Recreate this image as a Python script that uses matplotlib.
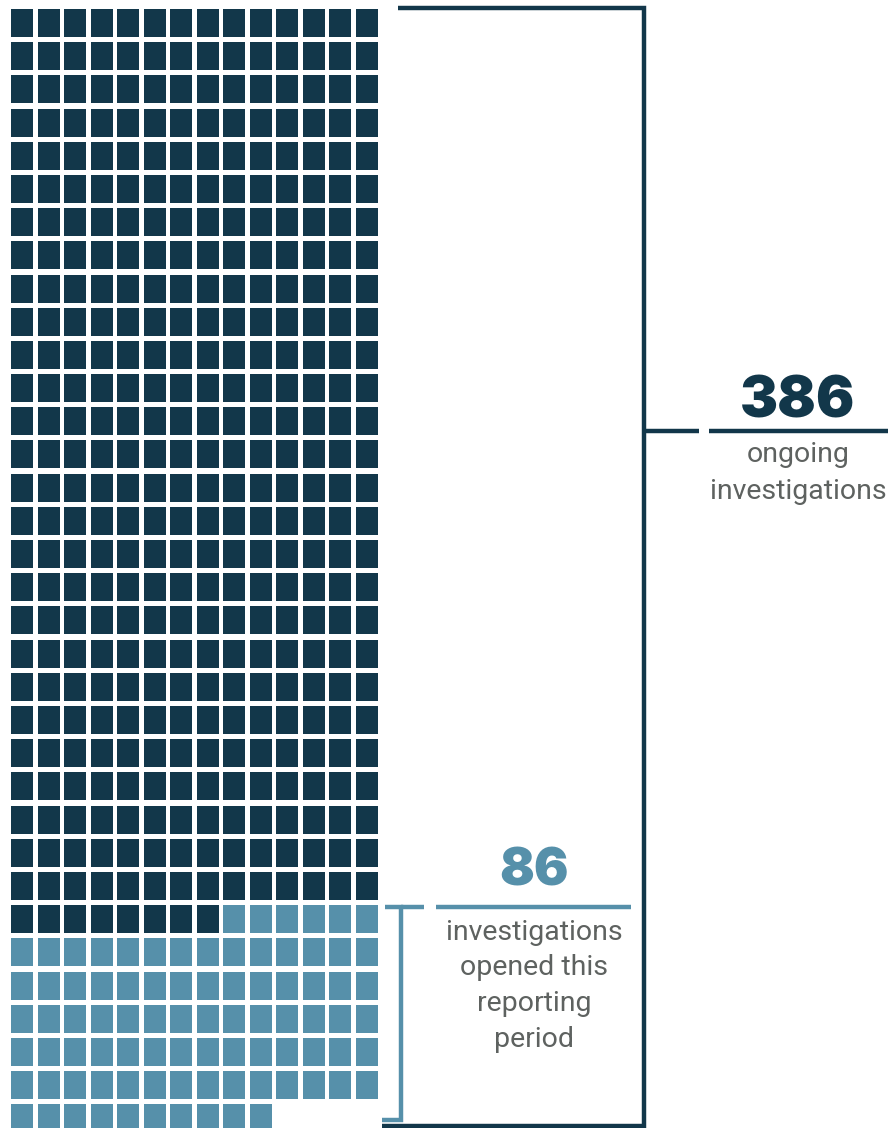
import matplotlib.pyplot as plt
from matplotlib.patches import Rectangle

# waffle counts, filled left-to-right from the top
categories = ['ongoing investigations', 'investigations opened this reporting period']
counts = [386, 86]
labels = ['ongoing\ninvestigations', 'investigations\nopened this\nreporting\nperiod']

dark = '#12374a'
light = '#5690aa'
grey = '#5e6260'

ncols = 14
x0, y0 = 11, 9          # top-left of first tile (px)
dx, dy = 26.5, 33.19    # tile pitch
w, h = 22, 28           # tile size

fig = plt.figure(figsize=(8.91, 11.28), dpi=100)
ax = fig.add_axes([0, 0, 1, 1])
ax.set_xlim(0, 891)
ax.set_ylim(1128, 0)
ax.axis('off')

# tiles
i = 0
for n, col in zip(counts, [dark, light]):
    for _ in range(n):
        r, c = divmod(i, ncols)
        ax.add_patch(Rectangle((x0 + c * dx, y0 + r * dy), w, h, color=col, lw=0))
        i += 1

# light start row -> top of small bracket
first_light_row = counts[0] // ncols
yl_top = y0 + first_light_row * dy + 2
last_row = (sum(counts) - 1) // ncols
yl_bot = y0 + last_row * dy + 16

num_font = ['Inter', 'DejaVu Sans']
txt_font = ['Roboto', 'DejaVu Sans']

# big bracket (all tiles)
lw = 3.2
ax.plot([398, 644, 644, 382], [8, 8, 1126, 1126], color=dark, lw=lw, solid_capstyle='butt', solid_joinstyle='miter')
ymid = 431
ax.plot([644, 699], [ymid, ymid], color=dark, lw=lw, solid_capstyle='butt')
ax.plot([709, 888], [ymid, ymid], color=dark, lw=lw, solid_capstyle='butt')
ax.text(798, 418, str(counts[0]), color=dark, fontsize=41, fontweight='black',
        family=num_font, ha='center', va='baseline')
ax.text(798, 441.5, labels[0], color=grey, fontsize=20.5, family=txt_font,
        ha='center', va='top', linespacing=1.45)

# small bracket (newly opened)
ax.plot([385, 400.5, 400.5, 382], [yl_top, yl_top, yl_bot, yl_bot], color=light, lw=lw,
        solid_capstyle='butt', solid_joinstyle='miter')
ax.plot([400.5, 424], [yl_top, yl_top], color=light, lw=lw, solid_capstyle='butt')
ax.plot([436, 631], [yl_top, yl_top], color=light, lw=lw, solid_capstyle='butt')
ax.text(534, 885, str(counts[1]), color=light, fontsize=37, fontweight='black',
        family=num_font, ha='center', va='baseline')
ax.text(534, 918.5, labels[1], color=grey, fontsize=20.5, family=txt_font,
        ha='center', va='top', linespacing=1.42)

fig.savefig('out.png', dpi=100)
